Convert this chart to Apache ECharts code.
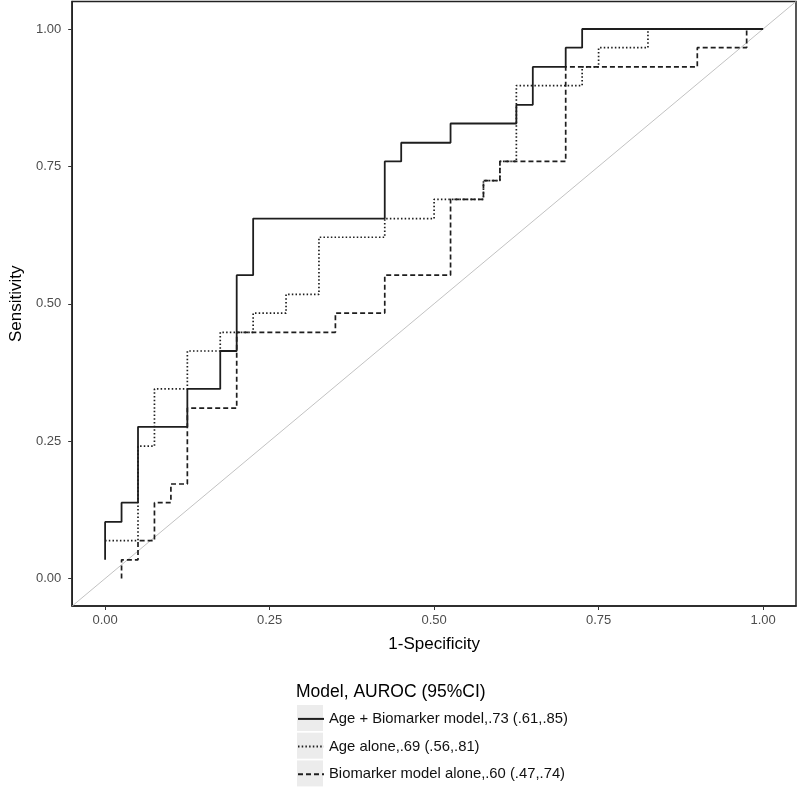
<!DOCTYPE html>
<html>
<head>
<meta charset="utf-8">
<script src="https://cdn.jsdelivr.net/npm/echarts@6/dist/echarts.min.js"></script>
<style>
html,body{margin:0;padding:0;background:#fff;}
#chart{width:800px;height:787px;}
</style>
</head>
<body>
<div id="chart"></div>
<script>
// Series names (legend labels)
const seriesNames = [
  'Age + Biomarker model,.73 (.61,.85)',
  'Age alone,.69 (.56,.81)',
  'Biomarker model alone,.60 (.47,.74)'
];
const legendTitle = 'Model, AUROC (95%CI)';
const xTitle = '1-Specificity';
const yTitle = 'Sensitivity';
const tickValues = [0, 0.25, 0.5, 0.75, 1];

// ROC step points: (1-specificity, sensitivity)
const fprAgeBio = [0, 0.025, 0.05, 0.125, 0.175, 0.2, 0.225, 0.425, 0.45, 0.525, 0.625, 0.65, 0.7, 0.725, 1.0];
const tprAgeBio = [0.034, 0.103, 0.138, 0.276, 0.345, 0.414, 0.552, 0.655, 0.759, 0.793, 0.828, 0.862, 0.931, 0.966, 1.0];

const fprAge = [0, 0.05, 0.075, 0.125, 0.175, 0.225, 0.275, 0.325, 0.425, 0.5, 0.575, 0.6, 0.625, 0.725, 0.75, 0.825, 1.0];
const tprAge = [0.069, 0.069, 0.241, 0.345, 0.414, 0.448, 0.483, 0.517, 0.621, 0.655, 0.690, 0.724, 0.759, 0.897, 0.931, 0.966, 1.0];

const fprBio = [0.025, 0.05, 0.075, 0.1, 0.125, 0.2, 0.35, 0.425, 0.525, 0.575, 0.6, 0.7, 0.9, 0.975, 1.0];
const tprBio = [0, 0.034, 0.069, 0.138, 0.172, 0.310, 0.448, 0.483, 0.552, 0.690, 0.724, 0.759, 0.931, 0.966, 1.0];

// Reference diagonal
const diagX = [-0.05, 1.05];
const diagY = [-0.05, 1.05];

function zip(a, b) { return a.map((v, i) => [v, b[i]]); }

const FONT = "'Liberation Sans', Arial, Helvetica, sans-serif";
const chart = echarts.init(document.getElementById('chart'), null, {renderer: 'canvas'});

const option = {
  backgroundColor: '#ffffff',
  animation: false,
  textStyle: {fontFamily: FONT},
  title: {
    text: legendTitle,
    left: 296, top: 683, padding: 0,
    textStyle: {fontFamily: FONT, fontSize: 17.5, fontWeight: 'normal', color: '#000'}
  },
  legend: {
    data: seriesNames,
    orient: 'vertical',
    left: 297, top: 708.5, padding: 0,
    itemWidth: 26, itemHeight: 26, itemGap: 6.9,
    selectedMode: false,
    itemStyle: {opacity: 0, borderWidth: 0},
    textStyle: {fontFamily: FONT, fontSize: 14.8, color: '#111'}
  },
  graphic: [0, 1, 2].map(i => ({
    type: 'rect', z: 0,
    shape: {x: 297, y: 705 + i * 27.7, width: 26, height: 26},
    style: {fill: '#ececec'}
  })),
  grid: {
    left: 64, right: 4, top: 1.5, bottom: 181,
    show: true, borderColor: '#222', borderWidth: 1.5, backgroundColor: '#fff'
  },
  xAxis: {
    type: 'value', min: -0.05, max: 1.05,
    name: xTitle, nameLocation: 'middle', nameGap: 30,
    nameTextStyle: {fontFamily: FONT, fontSize: 17, color: '#000'},
    axisLine: {show: true, onZero: false, lineStyle: {color: '#222', width: 1.5}},
    axisTick: {show: true, length: 4, customValues: tickValues, lineStyle: {color: '#333', width: 1}},
    axisLabel: {customValues: tickValues, margin: 8, fontSize: 13, color: '#4d4d4d', fontFamily: FONT,
      formatter: v => v.toFixed(2)},
    splitLine: {show: false}
  },
  yAxis: {
    type: 'value', min: -0.05, max: 1.05,
    name: yTitle, nameLocation: 'middle', nameGap: 46,
    nameTextStyle: {fontFamily: FONT, fontSize: 17, color: '#000'},
    axisLine: {show: true, onZero: false, lineStyle: {color: '#222', width: 1.5}},
    axisTick: {show: true, length: 4, customValues: tickValues, lineStyle: {color: '#333', width: 1}},
    axisLabel: {customValues: tickValues, margin: 11, fontSize: 13, color: '#4d4d4d', fontFamily: FONT,
      formatter: v => v.toFixed(2)},
    splitLine: {show: false}
  },
  series: [
    {
      name: 'diag', type: 'line', data: zip(diagX, diagY), symbol: 'none', silent: true,
      lineStyle: {color: '#c2c2c2', width: 1}, z: 1
    },
    {
      name: seriesNames[0], type: 'line', data: zip(fprAgeBio, tprAgeBio), step: 'start', symbol: 'none',
      lineStyle: {color: '#1e1e1e', width: 1.8, type: 'solid'}, itemStyle: {color: '#1e1e1e'}, z: 3
    },
    {
      name: seriesNames[1], type: 'line', data: zip(fprAge, tprAge), step: 'start', symbol: 'none',
      lineStyle: {color: '#1e1e1e', width: 1.7, type: [1.5, 2.2]}, itemStyle: {color: '#1e1e1e'}, z: 3
    },
    {
      name: seriesNames[2], type: 'line', data: zip(fprBio, tprBio), step: 'start', symbol: 'none',
      lineStyle: {color: '#1e1e1e', width: 1.7, type: [5, 3]}, itemStyle: {color: '#1e1e1e'}, z: 3
    }
  ]
};
chart.setOption(option);
</script>
</body>
</html>
